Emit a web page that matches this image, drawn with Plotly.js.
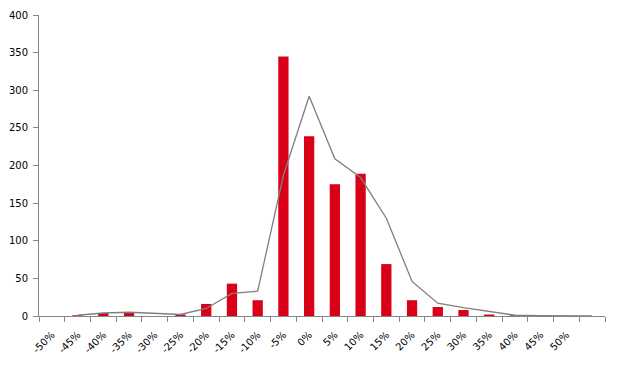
<!DOCTYPE html>
<html><head><meta charset="utf-8">
<script src="https://cdn.plot.ly/plotly-3.0.1.min.js"></script>
<style>html,body{margin:0;padding:0;background:#fff}#chart{width:620px;height:368px}</style>
</head><body><div id="chart"></div>
<script>
const categories = ["-50%","-45%","-40%","-35%","-30%","-25%","-20%","-15%","-10%","-5%","0%","5%","10%","15%","20%","25%","30%","35%","40%","45%","50%"," "];
const barValues  = [0, 1, 4, 4, 0, 2, 16, 43, 21, 345, 239, 175, 189, 69, 21, 12, 8, 2, 1, 0, 0, 0];
const lineValues = [null, 1, 4, 5, 3, 2, 10, 30, 33, 187, 292, 209, 184, 130, 46, 17, 11, 6, 1, 0.5, 0.3, 0];

const axisColor = "#868686";
const font = {family: "DejaVu Sans, Open Sans, sans-serif", size: 10, color: "#000"};

Plotly.newPlot("chart", [
  {type: "bar", x: categories, y: barValues, marker: {color: "#DA0018"}, width: 0.4, hoverinfo: "skip"},
  {type: "scatter", mode: "lines", x: categories, y: lineValues, line: {color: "#7F7F7F", width: 1.3}, connectgaps: false, hoverinfo: "skip"}
], {
  width: 620, height: 368,
  margin: {l: 39, r: 15, t: 15, b: 52},
  paper_bgcolor: "#fff", plot_bgcolor: "#fff",
  showlegend: false,
  font: font,
  xaxis: {type: "category", categoryorder: "array", categoryarray: categories,
    tickson: "boundaries", ticks: "outside", ticklen: 5, tickcolor: axisColor,
    showline: true, linecolor: axisColor, linewidth: 1, showgrid: false, zeroline: false,
    tickangle: -45, tickfont: font, ticklabelstandoff: 8, range: [-0.5, 21.5]},
  yaxis: {range: [0, 400], dtick: 50, ticks: "outside", ticklen: 5, tickcolor: axisColor,
    showline: true, linecolor: axisColor, linewidth: 1, showgrid: false, zeroline: false,
    tickfont: font, ticklabelstandoff: 3}
}, {staticPlot: true, displayModeBar: false});
</script></body></html>
